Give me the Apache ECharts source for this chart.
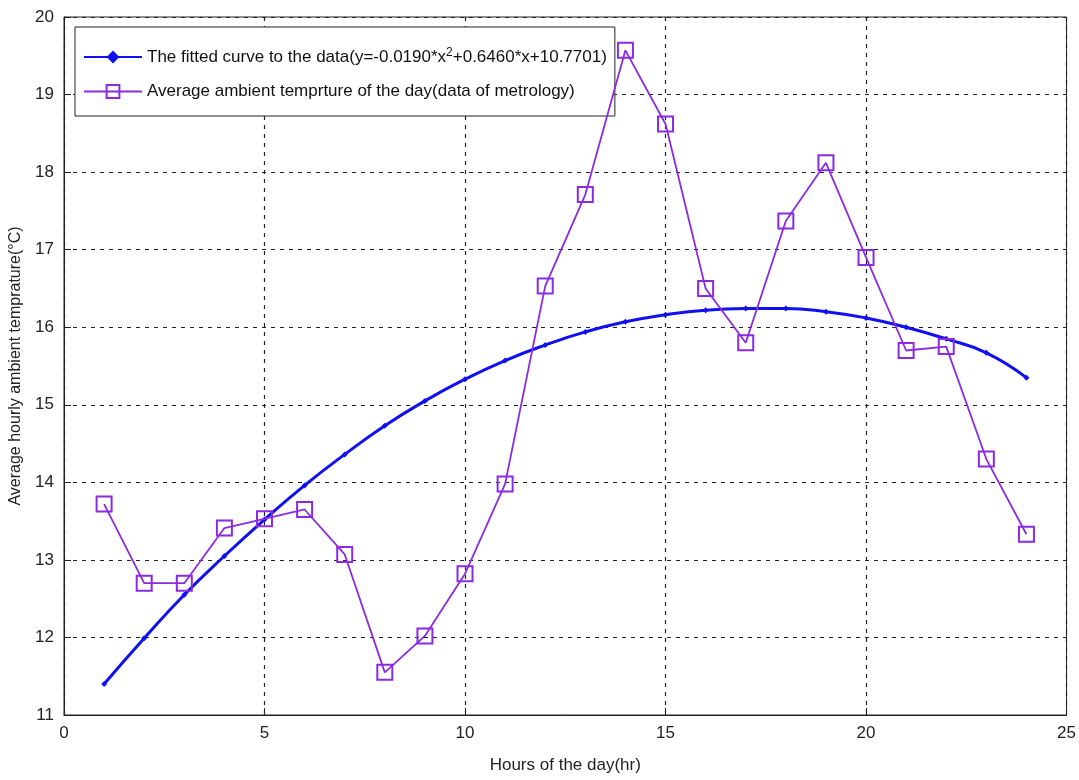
<!DOCTYPE html>
<html>
<head>
<meta charset="utf-8">
<script src="https://cdn.jsdelivr.net/npm/echarts@6/dist/echarts.min.js"></script>
<style>
  html, body { margin: 0; padding: 0; background: #fff; }
  #main { width: 1079px; height: 780px; }
</style>
</head>
<body>
<div id="main"></div>
<script>
// hours of the day
var hours = [1, 2, 3, 4, 5, 6, 7, 8, 9, 10, 11, 12, 13, 14, 15, 16, 17, 18, 19, 20, 21, 22, 23, 24];
var measured = [13.72, 12.70, 12.70, 13.41, 13.53, 13.65, 13.07, 11.55, 12.02, 12.82, 13.98, 16.53,
                17.71, 19.57, 18.62, 16.50, 15.80, 17.37, 18.12, 16.90, 15.70, 15.75, 14.30, 13.33];
// fitted curve (at each hour)
var fitted = [11.40, 11.99, 12.55, 13.05, 13.52, 13.96, 14.36, 14.73, 15.05, 15.33, 15.57, 15.77,
              15.94, 16.07, 16.16, 16.22, 16.24, 16.24, 16.20, 16.12, 16.00, 15.85, 15.67, 15.35];

var fitName = 'The fitted curve to the data(y=-0.0190*x2+0.6460*x+10.7701)';
var measName = 'Average ambient temprture of the day(data of metrology)';

function pairs(xs, ys) {
    return xs.map(function (x, i) { return [x, ys[i]]; });
}

var chart = echarts.init(document.getElementById('main'));
var option = {
    backgroundColor: '#fff',
    animation: false,
    grid: {
        left: 64, right: 12, top: 17, bottom: 65,
        show: true, borderColor: '#222', borderWidth: 1
    },
    legend: {
        orient: 'vertical',
        left: 75, top: 27,
        padding: [20, 8, 16, 8],
        itemGap: 16,
        itemWidth: 58,
        itemHeight: 16,
        backgroundColor: '#fff',
        borderColor: '#222',
        borderWidth: 1,
        borderRadius: 0,
        formatter: function (name) {
            if (name === fitName) {
                return '{t|The fitted curve to the data(y=-0.0190*x}{s|2}{t|+0.6460*x+10.7701)}';
            }
            return '{t|' + name + '}';
        },
        textStyle: {
            fontFamily: 'Liberation Sans', fontSize: 17, color: '#111',
            rich: {
                t: { fontFamily: 'Liberation Sans', fontSize: 17, color: '#111', lineHeight: 20 },
                s: { fontFamily: 'Liberation Sans', fontSize: 12, color: '#111', verticalAlign: 'top', lineHeight: 20, padding: [0, 0, 8, 0] }
            }
        },
        data: [
            { name: fitName },
            { name: measName }
        ]
    },
    xAxis: {
        type: 'value',
        min: 0, max: 25, interval: 5,
        name: 'Hours of the day(hr)',
        nameLocation: 'middle',
        nameGap: 42,
        nameTextStyle: { fontFamily: 'Liberation Sans', fontSize: 17, color: '#222' },
        axisLine: { show: true, lineStyle: { color: '#222' } },
        axisTick: { show: true, inside: true, length: 7, lineStyle: { color: '#222' } },
        axisLabel: { fontFamily: 'Liberation Sans', fontSize: 17, color: '#222', margin: 10 },
        splitLine: { show: true, lineStyle: { color: '#222', type: [4, 5], width: 1.2 } }
    },
    yAxis: {
        type: 'value',
        min: 11, max: 20, interval: 1,
        name: 'Average hourly ambient temprature(\u00b0C)',
        nameLocation: 'middle',
        nameGap: 40,
        nameRotate: 90,
        nameTextStyle: { fontFamily: 'Liberation Sans', fontSize: 16, color: '#222' },
        axisLine: { show: true, lineStyle: { color: '#222' } },
        axisTick: { show: true, inside: true, length: 7, lineStyle: { color: '#222' } },
        axisLabel: { fontFamily: 'Liberation Sans', fontSize: 17, color: '#222', margin: 10 },
        splitLine: { show: true, lineStyle: { color: '#222', type: [4, 5], width: 1.2 } }
    },
    series: [
        {
            name: fitName,
            type: 'line',
            smooth: true,
            data: pairs(hours, fitted),
            symbol: 'diamond',
            symbolSize: 6,
            itemStyle: { color: '#1010f0' },
            lineStyle: { color: '#1010f0', width: 3 },
            z: 3
        },
        {
            name: measName,
            type: 'line',
            data: pairs(hours, measured),
            symbol: 'rect',
            symbolSize: 15,
            showAllSymbol: true,
            itemStyle: { color: 'rgba(255,255,255,0)', borderColor: '#8a2be2', borderWidth: 2 },
            lineStyle: { color: '#8a2be2', width: 1.8 },
            z: 4
        }
    ]
};
chart.setOption(option);
</script>
</body>
</html>
